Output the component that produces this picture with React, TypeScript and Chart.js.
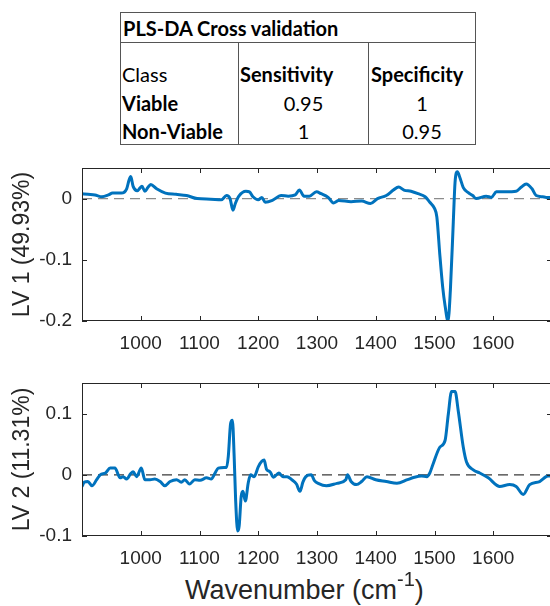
import { useEffect, useRef } from "react";
import { Chart, registerables } from "chart.js";

Chart.register(...registerables);

// PLS-DA cross validation summary
const tableTitle = "PLS-DA Cross validation";
const tableHeader = ["Class", "Sensitivity", "Specificity"];
const tableClasses = ["Viable", "Non-Viable"];
const sensitivity = ["0.95", "1"];
const specificity = ["1", "0.95"];

// Shared wavenumber axis
const wavenumberMin = 900;
const wavenumberMax = 1700;
const wavenumberTicks = [1000, 1100, 1200, 1300, 1400, 1500, 1600];

// Latent variable 1 loadings
const lv1Title = "LV 1 (49.93%)";
const lv1Range = [-0.2, 0.05];
const lv1Ticks = [-0.2, -0.1, 0];
const lv1Wavenumber = [
  900, 910, 922, 934, 945, 952, 967, 976, 980, 983, 987, 994, 1002, 1007, 1012,
  1017, 1027, 1042, 1060, 1078, 1096, 1119, 1137, 1146, 1152, 1157, 1161, 1167,
  1179, 1185, 1191, 1200, 1206, 1212, 1224, 1239, 1251, 1263, 1270, 1278, 1287,
  1299, 1307, 1319, 1328, 1337, 1358, 1376, 1391, 1403, 1418, 1430, 1439, 1448,
  1460, 1472, 1484, 1492, 1500, 1504, 1509, 1514, 1518, 1523, 1527, 1532, 1535,
  1539, 1543, 1549, 1557, 1565, 1571, 1588, 1597, 1605, 1621, 1639, 1648, 1656,
  1666, 1673, 1684, 1690, 1700,
];
const lv1Loading = [
  0.008, 0.007, 0.006, 0.003, 0.006, 0.009, 0.009, 0.016, 0.03, 0.036, 0.02,
  0.013, 0.02, 0.012, 0.018, 0.023, 0.016, 0.009, 0.007, 0.005, 0.0, -0.001,
  -0.002, 0.005, 0.0, -0.019, -0.008, 0.004, 0.012, 0.011, 0.003, -0.002, 0.002,
  -0.006, -0.003, 0.005, 0.004, 0.006, 0.014, 0.004, 0.004, 0.011, 0.008, 0.002,
  -0.007, -0.003, -0.005, -0.004, -0.008, 0.0, 0.005, 0.014, 0.019, 0.014, 0.012,
  0.008, 0.003, -0.006, -0.016, -0.03, -0.091, -0.145, -0.175, -0.2, -0.15,
  -0.038, 0.027, 0.044, 0.035, 0.018, 0.01, 0.005, 0.0, 0.004, 0.002, 0.011,
  0.011, 0.012, 0.019, 0.024, 0.016, 0.005, 0.003, 0.002, 0.002,
];

// Latent variable 2 loadings
const lv2Title = "LV 2 (11.31%)";
const lv2Range = [-0.1, 0.15];
const lv2Ticks = [-0.1, 0, 0.1];
const lv2Wavenumber = [
  900, 904, 910, 917, 925, 931, 940, 948, 956, 965, 970, 976, 983, 987, 993,
  1001, 1007, 1016, 1024, 1033, 1041, 1050, 1061, 1069, 1075, 1083, 1092, 1101,
  1112, 1120, 1126, 1132, 1142, 1146, 1149, 1153, 1156, 1159, 1161.5, 1165,
  1167.5, 1171, 1174, 1178, 1183, 1187, 1193, 1200, 1206, 1210, 1214, 1220, 1226,
  1235, 1242, 1249, 1257, 1265, 1271, 1276, 1281, 1290, 1296, 1302, 1316, 1334,
  1349, 1352, 1358, 1367, 1376, 1385, 1400, 1418, 1436, 1454, 1466, 1478, 1487,
  1492, 1497, 1509, 1518, 1523.5, 1529, 1535, 1540.5, 1549, 1554.5, 1566, 1577,
  1591.5, 1611, 1628, 1639, 1651, 1662, 1679, 1693, 1700,
];
const lv2Loading = [
  -0.019, -0.012, -0.011, -0.018, -0.008, 0.0, 0.003, 0.011, 0.011, -0.005,
  -0.003, -0.007, 0.002, 0.005, -0.003, 0.011, -0.008, -0.008, -0.007, -0.011,
  -0.018, -0.011, -0.008, -0.012, -0.008, -0.015, -0.008, -0.009, -0.005, -0.007,
  0.002, 0.011, 0.012, 0.012, 0.03, 0.084, 0.089, 0.03, -0.041, -0.092, -0.084,
  -0.035, -0.027, -0.043, -0.013, 0.0, -0.003, 0.013, 0.022, 0.024, 0.009, 0.005,
  -0.004, 0.003, -0.003, -0.003, -0.008, -0.015, -0.027, -0.012, -0.003, 0.0,
  -0.01, -0.014, -0.018, -0.014, -0.008, 0.0, -0.011, -0.016, -0.011, -0.003,
  -0.008, -0.011, -0.014, -0.008, -0.004, -0.002, -0.003, 0.003, 0.016, 0.045,
  0.056, 0.099, 0.136, 0.136, 0.104, 0.045, 0.021, 0.008, 0.003, -0.005, -0.019,
  -0.016, -0.019, -0.032, -0.016, -0.011, -0.002, -0.002,
];

const AXIS_COLOR = "#262626";
const LINE_COLOR = "#0072BD";
const SANS = "'Liberation Sans', Arial, Helvetica, sans-serif";
const TICK_FONT = { family: SANS, size: 19 };

type PanelProps = {
  wavenumber: number[];
  loading: number[];
  range: number[];
  yTicks: number[];
  yTitle: string;
  zeroColor: string;
  top: number;
  height: number;
  padTop: number;
  xAxisHeight: number;
};

// Box outline with inward ticks on all four sides, plus the rotated y title
const boxAxesPlugin = (yTitle: string) => ({
  id: "boxAxes",
  afterDraw(chart: any) {
    const { ctx, chartArea: a, scales } = chart;
    const x = scales.x;
    const y = scales.y;
    const tl = 5;
    ctx.save();
    ctx.strokeStyle = AXIS_COLOR;
    ctx.lineWidth = 1;
    ctx.strokeRect(a.left + 0.5, a.top + 0.5, a.right - a.left - 1, a.bottom - a.top - 1);
    ctx.beginPath();
    x.ticks.forEach((t: any) => {
      const px = Math.round(x.getPixelForValue(t.value)) + 0.5;
      ctx.moveTo(px, a.bottom);
      ctx.lineTo(px, a.bottom - tl);
      ctx.moveTo(px, a.top);
      ctx.lineTo(px, a.top + tl);
    });
    y.ticks.forEach((t: any) => {
      const py = Math.round(y.getPixelForValue(t.value)) + 0.5;
      ctx.moveTo(a.left, py);
      ctx.lineTo(a.left + tl, py);
      ctx.moveTo(a.right, py);
      ctx.lineTo(a.right - tl, py);
    });
    ctx.stroke();
    ctx.translate(23, (a.top + a.bottom) / 2);
    ctx.rotate(-Math.PI / 2);
    ctx.font = "23px " + SANS;
    ctx.fillStyle = AXIS_COLOR;
    ctx.textAlign = "center";
    ctx.textBaseline = "middle";
    ctx.fillText(yTitle, 0, 0);
    ctx.restore();
  },
});

function LoadingPanel(p: PanelProps) {
  const ref = useRef<HTMLCanvasElement | null>(null);
  useEffect(() => {
    if (!ref.current) return;
    const points = p.wavenumber.map((w, i) => ({ x: w, y: p.loading[i] }));
    const chart = new Chart(ref.current, {
      type: "line",
      data: {
        datasets: [
          {
            data: points,
            borderColor: LINE_COLOR,
            borderWidth: 3,
            pointRadius: 0,
            cubicInterpolationMode: "monotone",
            fill: false,
            order: 1,
          },
          {
            data: [
              { x: wavenumberMin, y: 0 },
              { x: wavenumberMax, y: 0 },
            ],
            borderColor: p.zeroColor,
            borderWidth: 1.2,
            borderDash: [10, 6],
            pointRadius: 0,
            fill: false,
            order: 2,
          },
        ],
      },
      options: {
        animation: false,
        responsive: false,
        maintainAspectRatio: false,
        layout: { padding: { top: p.padTop, right: 8, left: 0, bottom: 0 } },
        plugins: { legend: { display: false }, tooltip: { enabled: false } },
        scales: {
          x: {
            type: "linear",
            min: wavenumberMin,
            max: wavenumberMax,
            grid: { display: false, drawTicks: false },
            border: { display: false },
            afterBuildTicks: (s: any) => {
              s.ticks = wavenumberTicks.map((v) => ({ value: v }));
            },
            afterFit: (s: any) => {
              s.height = p.xAxisHeight;
              s.paddingLeft = 0;
              s.paddingRight = 0;
            },
            ticks: {
              color: AXIS_COLOR,
              font: TICK_FONT,
              padding: 11,
              maxRotation: 0,
              autoSkip: false,
              callback: (v: any) => String(v),
            },
          },
          y: {
            type: "linear",
            min: p.range[0],
            max: p.range[1],
            grid: { display: false, drawTicks: false },
            border: { display: false },
            afterBuildTicks: (s: any) => {
              s.ticks = p.yTicks.map((v) => ({ value: v }));
            },
            afterFit: (s: any) => {
              s.width = 82;
              s.paddingTop = 0;
              s.paddingBottom = 0;
            },
            ticks: {
              color: AXIS_COLOR,
              font: TICK_FONT,
              padding: 10,
              callback: (v: any) => String(Math.round(v * 100) / 100),
            },
          },
        },
      },
      plugins: [boxAxesPlugin(p.yTitle)],
    } as any);
    return () => chart.destroy();
  }, []);
  return (
    <canvas
      ref={ref}
      width={560}
      height={p.height}
      style={{ position: "absolute", left: 0, top: p.top, width: 560, height: p.height }}
    />
  );
}

const cell: any = {
  borderLeft: "1px solid #555",
  padding: "0 3px",
};

export default function App() {
  return (
    <div
      style={{
        position: "fixed",
        left: 0,
        top: 0,
        width: 550,
        height: 606,
        overflow: "hidden",
        background: "#fff",
      }}
    >
      <table
        style={{
          position: "absolute",
          left: 120,
          top: 12,
          width: 355,
          borderCollapse: "collapse",
          border: "1px solid #555",
          fontFamily: "Lato, 'Open Sans', sans-serif",
          fontSize: 20,
          color: "#000",
          tableLayout: "fixed",
        }}
      >
        <colgroup>
          <col style={{ width: 118 }} />
          <col style={{ width: 130 }} />
          <col style={{ width: 107 }} />
        </colgroup>
        <tbody>
          <tr style={{ height: 30 }}>
            <td
              colSpan={3}
              style={{ fontWeight: 700, padding: "0 2px", borderBottom: "1px solid #555" }}
            >
              {tableTitle}
            </td>
          </tr>
          <tr style={{ height: 46 }}>
            <td style={{ ...cell, borderLeft: "none", verticalAlign: "bottom", paddingBottom: 3, paddingLeft: 1 }}>
              {tableHeader[0]}
            </td>
            <td style={{ ...cell, fontWeight: 700, verticalAlign: "bottom", paddingBottom: 3, paddingLeft: 1 }}>
              {tableHeader[1]}
            </td>
            <td style={{ ...cell, fontWeight: 700, verticalAlign: "bottom", paddingBottom: 3, paddingLeft: 2 }}>
              {tableHeader[2]}
            </td>
          </tr>
          {tableClasses.map((c, i) => (
            <tr key={c} style={{ height: i === 0 ? 29 : 27 }}>
              <td style={{ ...cell, borderLeft: "none", fontWeight: 700, paddingLeft: 1 }}>{c}</td>
              <td style={{ ...cell, textAlign: "center" }}>{sensitivity[i]}</td>
              <td style={{ ...cell, textAlign: "center" }}>{specificity[i]}</td>
            </tr>
          ))}
        </tbody>
      </table>

      <LoadingPanel
        wavenumber={lv1Wavenumber}
        loading={lv1Loading}
        range={lv1Range}
        yTicks={lv1Ticks}
        yTitle={lv1Title}
        zeroColor="#8c8c8c"
        top={160}
        height={201}
        padTop={8}
        xAxisHeight={40}
      />
      <LoadingPanel
        wavenumber={lv2Wavenumber}
        loading={lv2Loading}
        range={lv2Range}
        yTicks={lv2Ticks}
        yTitle={lv2Title}
        zeroColor="#3a3a3a"
        top={375}
        height={196}
        padTop={8}
        xAxisHeight={35}
      />

      <div
        style={{
          position: "absolute",
          left: 185,
          top: 574,
          font: "27px " + SANS,
          lineHeight: "32px",
          color: AXIS_COLOR,
          whiteSpace: "nowrap",
        }}
      >
        Wavenumber (cm
        <span style={{ fontSize: 20, position: "relative", top: -13 }}>-1</span>)
      </div>
    </div>
  );
}
